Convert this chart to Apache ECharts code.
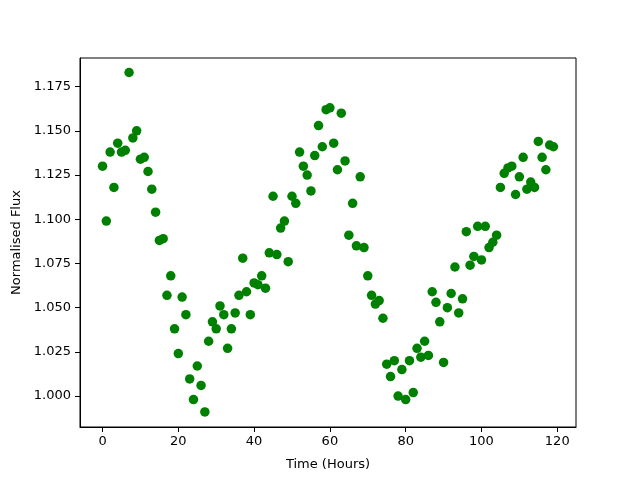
<!DOCTYPE html>
<html>
<head>
<meta charset="utf-8">
<script src="https://cdn.jsdelivr.net/npm/echarts@6/dist/echarts.min.js"></script>
<style>html,body{margin:0;padding:0;background:#fff;}#c{width:640px;height:480px;}</style>
</head>
<body>
<div id="c"></div>
<script>
const hours = [];
for (let i = 0; i < 120; i++) hours.push(i);
const flux = [
1.130,1.099,1.138,1.118,1.143,1.138,1.139,1.183,1.146,1.150,
1.134,1.135,1.127,1.117,1.104,1.088,1.089,1.057,1.068,1.038,
1.024,1.056,1.046,1.0097,0.998,1.017,1.006,0.991,1.031,1.042,
1.038,1.051,1.046,1.027,1.038,1.047,1.057,1.078,1.059,1.046,
1.064,1.063,1.068,1.061,1.081,1.113,1.080,1.095,1.099,1.076,
1.113,1.109,1.138,1.130,1.125,1.116,1.136,1.153,1.141,1.162,
1.163,1.143,1.128,1.160,1.133,1.091,1.109,1.085,1.124,1.084,
1.068,1.057,1.052,1.054,1.044,1.018,1.011,1.020,1.000,1.015,
0.998,1.020,1.002,1.027,1.022,1.031,1.023,1.059,1.053,1.042,
1.019,1.050,1.058,1.073,1.047,1.055,1.093,1.074,1.079,1.096,
1.077,1.096,1.084,1.087,1.091,1.118,1.126,1.129,1.130,1.114,
1.124,1.135,1.117,1.121,1.118,1.144,1.135,1.128,1.142,1.141
];
const xTicks = [0, 20, 40, 60, 80, 100, 120];
const yTicks = [1.000, 1.025, 1.050, 1.075, 1.100, 1.125, 1.150, 1.175];

const font = 'DejaVu Sans';
const chart = echarts.init(document.getElementById('c'), null, {renderer: 'canvas'});
chart.setOption({
  animation: false,
  backgroundColor: '#ffffff',
  grid: {left: 80, right: 64, top: 58, bottom: 53, show: true, borderColor: '#000', borderWidth: 1, backgroundColor: 'transparent'},
  xAxis: {
    type: 'value', min: -5.95, max: 124.95,
    name: 'Time (Hours)', nameLocation: 'middle', nameGap: 31,
    nameTextStyle: {fontFamily: font, fontSize: 13, color: '#000'},
    axisLine: {show: true, onZero: false, lineStyle: {color: '#000', width: 1}},
    axisTick: {show: true, inside: false, length: 5, lineStyle: {color: '#000'}, customValues: xTicks},
    axisLabel: {fontFamily: font, fontSize: 13, color: '#000', margin: 8, customValues: xTicks, showMinLabel: true, showMaxLabel: true},
    splitLine: {show: false}
  },
  yAxis: {
    type: 'value', min: 0.9825, max: 1.1912,
    name: 'Normalised Flux', nameLocation: 'middle', nameGap: 56, nameRotate: 90,
    nameTextStyle: {fontFamily: font, fontSize: 13, color: '#000'},
    axisLine: {show: true, onZero: false, lineStyle: {color: '#000', width: 1}},
    axisTick: {show: true, inside: false, length: 5, lineStyle: {color: '#000'}, customValues: yTicks},
    axisLabel: {fontFamily: font, fontSize: 13, color: '#000', margin: 9, customValues: yTicks, formatter: v => v.toFixed(3)},
    splitLine: {show: false}
  },
  series: [{
    type: 'scatter',
    data: hours.map((h, i) => [h, flux[i]]),
    symbol: 'circle', symbolSize: 9.5,
    itemStyle: {color: '#008000', opacity: 1},
    emphasis: {disabled: true}
  }]
});
</script>
</body>
</html>
